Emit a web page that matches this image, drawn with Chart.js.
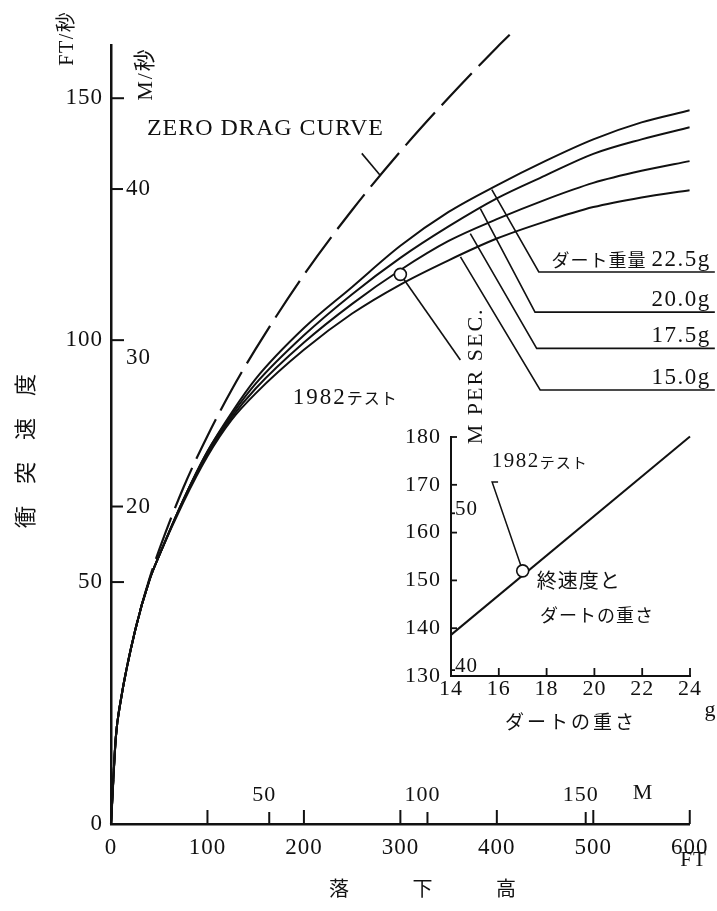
<!DOCTYPE html>
<html>
<head>
<meta charset="utf-8">
<script src="https://cdn.jsdelivr.net/npm/chart.js@4/dist/chart.umd.min.js"></script>
<style>
html, body { margin: 0; padding: 0; background: #fff; }
#wrap { position: relative; width: 717px; height: 911px; }
#wrap canvas { position: absolute; left: 0; top: 0; }
</style>
</head>
<body>
<div id="wrap">
  <canvas id="main" width="717" height="911"></canvas>
  <canvas id="inset" width="717" height="911"></canvas>
</div>
<script>
// 落下高 (FT) と 衝突速度 (FT/秒)
const dropFt  = [0, 5, 10, 25, 40, 50, 75, 100, 125, 150, 200, 250, 300, 350, 400, 450, 500, 550, 600];
const dart225 = [0, 17.9, 25.4, 40, 50.5, 55.5, 67, 77, 85, 92, 102.5, 111, 119.5, 126.5, 132, 137, 141.5, 145, 147.5];
const dart200 = [0, 17.9, 25.4, 40, 50.5, 55.5, 67, 77, 84.5, 91, 101, 109.5, 117, 123.5, 129.3, 134, 138.5, 141.5, 144];
const dart175 = [0, 17.9, 25.4, 40, 50.5, 55.5, 67, 76.5, 84, 90, 99.5, 107.5, 114.5, 120.5, 125, 129, 132.5, 135, 137];
const dart150 = [0, 17.9, 25.4, 40, 50.5, 55.5, 66.5, 76, 83.5, 89, 98, 105.5, 111.5, 116.5, 121, 124.5, 127.5, 129.5, 131];

// ZERO DRAG CURVE
const zeroFt   = [0, 5, 10, 25, 40, 50, 75, 100, 125, 150, 200, 250, 300, 350, 400, 420];
const zeroDrag = [0, 17.9, 25.4, 40, 50.8, 56.7, 69.5, 80.2, 89.7, 98.2, 113.5, 126.9, 139, 150.1, 160.5, 164.4];

// 1982テスト
const testFt = [300];
const testV  = [113.6];

// 目盛
const xTicksFt = [0, 100, 200, 300, 400, 500, 600];
const yTicksFt = [0, 50, 100, 150];
const xTicksM  = [50, 100, 150];
const yTicksMs = [20, 30, 40];

// 挿入図: 終速度とダートの重さ
const weightG   = [14, 24];
const termVel   = [138.6, 180.1];
const testG     = [17];
const testTermV = [152];
const insetXTicks  = [14, 16, 18, 20, 22, 24];
const insetYTicks  = [130, 140, 150, 160, 170, 180];
const insetMsTicks = [40, 50];

const FT_PER_M = 3.2808;
const INK = '#111';
const SERIF = "'Liberation Serif', 'Noto Sans CJK JP', serif";
const JP = "'Noto Sans CJK JP', sans-serif";

Chart.defaults.font.family = SERIF;
Chart.defaults.color = INK;

function pts(xs, ys) {
    return xs.map((x, i) => ({x: x, y: ys[i]}));
}

function seg(ctx, x1, y1, x2, y2) {
    ctx.beginPath();
    ctx.moveTo(x1, y1);
    ctx.lineTo(x2, y2);
    ctx.stroke();
}

function poly(ctx, p) {
    ctx.beginPath();
    ctx.moveTo(p[0][0], p[0][1]);
    for (let i = 1; i < p.length; i++) ctx.lineTo(p[i][0], p[i][1]);
    ctx.stroke();
}

// 文字列を続けて描く  parts = [[text, font, spacing], ...]
function run(ctx, parts, x, y, align, rot) {
    ctx.save();
    ctx.translate(x, y);
    if (rot) ctx.rotate(rot);
    ctx.textBaseline = 'middle';
    ctx.textAlign = 'left';
    let total = 0;
    const w = parts.map(p => {
        ctx.font = p[1];
        ctx.letterSpacing = (p[2] || 0) + 'px';
        const m = ctx.measureText(p[0]).width;
        total += m;
        return m;
    });
    let cx = align === 'right' ? -total : (align === 'center' ? -total / 2 : 0);
    parts.forEach((p, i) => {
        ctx.font = p[1];
        ctx.letterSpacing = (p[2] || 0) + 'px';
        ctx.fillText(p[0], cx, 0);
        cx += w[i];
    });
    ctx.restore();
}

function curve(label, xs, ys) {
    return {
        label: label,
        data: pts(xs, ys),
        borderColor: INK,
        borderWidth: 2,
        pointRadius: 0,
        cubicInterpolationMode: 'monotone',
        fill: false,
        order: 1
    };
}

function ringSet(label, xs, ys) {
    return {
        type: 'scatter',
        label: label,
        data: pts(xs, ys),
        pointRadius: 6,
        pointBackgroundColor: '#fff',
        pointBorderColor: INK,
        pointBorderWidth: 1.6,
        order: 0
    };
}

// メイン図の注記
const mainMarks = {
    id: 'mainMarks',
    beforeDraw(chart) {
        chart.ctx.letterSpacing = '1px';
    },
    afterDraw(chart) {
        const ctx = chart.ctx;
        const {x, y, xm, ym} = chart.scales;
        const X = v => x.getPixelForValue(v);
        const Y = v => y.getPixelForValue(v);
        const left = x.left, base = y.bottom;

        ctx.save();
        ctx.strokeStyle = INK;
        ctx.fillStyle = INK;
        ctx.lineWidth = 2;

        // 内向きの目盛
        xTicksFt.slice(1).forEach(v => seg(ctx, X(v), base, X(v), base - 14));
        yTicksFt.slice(1).forEach(v => seg(ctx, left, Y(v), left + 13, Y(v)));

        // M 目盛
        xTicksM.forEach(v => {
            const px = xm.getPixelForValue(v);
            seg(ctx, px, base, px, base - 12);
            run(ctx, [[String(v), '22px ' + SERIF, 1]], px - 5, base - 29, 'center');
        });
        run(ctx, [['M', '22px ' + SERIF, 0]], X(551), base - 31, 'center');

        // M/秒 目盛
        yTicksMs.forEach(v => {
            const py = ym.getPixelForValue(v);
            const ticked = v % 20 === 0;
            if (ticked) seg(ctx, left, py, left + 12, py);
            run(ctx, [[String(v), '23px ' + SERIF, 1]], left + 15, ticked ? py : py + 10, 'left');
        });

        // 軸タイトル
        run(ctx, [['FT', '21px ' + SERIF, 1]], X(604), base + 36, 'center');
        run(ctx, [['FT/秒', '20px ' + SERIF, 1.5]], X(-45), Y(162.4), 'center', -Math.PI / 2);
        run(ctx, [['M/秒', '22px ' + SERIF, 2]], X(37), Y(155), 'center', -Math.PI / 2);
        run(ctx, [['衝突速度', '22px ' + JP, 22]], X(-89.8), Y(61.2), 'left', -Math.PI / 2);
        run(ctx, [['落下高', '20px ' + JP, 63.5]], X(226), base + 64, 'left');

        // ZERO DRAG CURVE
        run(ctx, [['ZERO DRAG CURVE', '24px ' + SERIF, 1]], X(37.2), Y(143.8), 'left');
        ctx.lineWidth = 1.6;
        seg(ctx, X(260), Y(138.6), X(279), Y(134.1));

        // ダート重量ラベル
        const tags = [
            ['22.5g', 'ダート重量', [394.8, 131.1], [443.5, 114.1]],
            ['20.0g', '', [382.9, 127.2], [439.6, 105.8]],
            ['17.5g', '', [372.5, 122.0], [441.3, 98.3]],
            ['15.0g', '', [362.3, 117.2], [444.9, 89.7]]
        ];
        tags.forEach(t => {
            poly(ctx, [[X(t[2][0]), Y(t[2][1])], [X(t[3][0]), Y(t[3][1])], [X(626), Y(t[3][1])]]);
            const parts = [];
            if (t[1]) parts.push([t[1] + ' ', '18px ' + JP, 1]);
            parts.push([t[0], '23px ' + SERIF, 1.5]);
            run(ctx, parts, X(621.7), Y(t[3][1]) - 12, 'right');
        });

        // 1982テスト
        const cx = X(testFt[0]), cy = Y(testV[0]);
        const ex = X(362.2), ey = Y(95.9);
        const d = Math.hypot(ex - cx, ey - cy);
        seg(ctx, cx + (ex - cx) / d * 6, cy + (ey - cy) / d * 6, ex, ey);
        run(ctx, [['1982', '23px ' + SERIF, 2], ['テスト', '16px ' + JP, 1]], X(188.3), Y(88), 'left');

        ctx.restore();
    }
};

new Chart(document.getElementById('main'), {
    type: 'line',
    data: {
        datasets: [
            ringSet('1982テスト', testFt, testV),
            Object.assign(curve('ZERO DRAG CURVE', zeroFt, zeroDrag), {borderDash: [44, 10], borderWidth: 2.2, clip: false}),
            curve('22.5g', dropFt, dart225),
            curve('20.0g', dropFt, dart200),
            curve('17.5g', dropFt, dart175),
            curve('15.0g', dropFt, dart150)
        ]
    },
    options: {
        responsive: false,
        animation: false,
        layout: {padding: {top: 45, right: 24, left: 0, bottom: 0}},
        plugins: {legend: {display: false}, tooltip: {enabled: false}},
        scales: {
            x: {
                type: 'linear', min: 0, max: 600, position: 'bottom',
                afterBuildTicks: s => { s.ticks = xTicksFt.map(v => ({value: v})); },
                afterFit: s => { s.height = 87; },
                grid: {display: false, drawTicks: false},
                border: {display: true, color: INK, width: 2.5},
                ticks: {font: {size: 23}, color: INK, padding: 10, maxRotation: 0, autoSkip: false}
            },
            y: {
                type: 'linear', min: 0, max: 161, position: 'left',
                afterBuildTicks: s => { s.ticks = yTicksFt.map(v => ({value: v})); },
                afterFit: s => { s.width = 111; },
                grid: {display: false, drawTicks: false},
                border: {display: true, color: INK, width: 2.5},
                ticks: {font: {size: 23}, color: INK, padding: 8, autoSkip: false}
            },
            xm: {type: 'linear', display: false, min: 0, max: 600 / FT_PER_M, position: 'bottom'},
            ym: {type: 'linear', display: false, min: 0, max: 161 / FT_PER_M, position: 'left'}
        }
    },
    plugins: [mainMarks]
});

// 挿入図の注記
const insetMarks = {
    id: 'insetMarks',
    beforeDraw(chart) {
        chart.ctx.letterSpacing = '1px';
    },
    afterDraw(chart) {
        const ctx = chart.ctx;
        const {x, y, ym} = chart.scales;
        const X = v => x.getPixelForValue(v);
        const Y = v => y.getPixelForValue(v);
        const left = x.left, base = y.bottom;

        ctx.save();
        ctx.strokeStyle = INK;
        ctx.fillStyle = INK;
        ctx.lineWidth = 1.8;

        insetXTicks.slice(1).forEach(v => seg(ctx, X(v), base, X(v), base - 8));
        insetYTicks.slice(1).forEach(v => seg(ctx, left, Y(v), left + 6, Y(v)));

        insetMsTicks.forEach(v => {
            const py = ym.getPixelForValue(v);
            seg(ctx, left, py, left + 4, py);
            run(ctx, [[String(v), '21px ' + SERIF, 1]], left + 4, py - 4, 'left');
        });

        run(ctx, [['M PER SEC.', '22px ' + SERIF, 2]], X(15.05), Y(192.8), 'center', -Math.PI / 2);

        // 1982テスト
        ctx.lineWidth = 1.5;
        const cx = X(testG[0]), cy = Y(testTermV[0]);
        const ex = X(15.72), ey = Y(170.6);
        const d = Math.hypot(ex - cx, ey - cy);
        poly(ctx, [[cx + (ex - cx) / d * 6, cy + (ey - cy) / d * 6], [ex, ey], [X(15.97), ey]]);
        run(ctx, [['1982', '21px ' + SERIF, 1.5], ['テスト', '15px ' + JP, 1]], X(15.7), Y(174.8), 'left');

        run(ctx, [['終速度と', '20px ' + JP, 1]], X(17.59), Y(149.9), 'left');
        run(ctx, [['ダートの重さ', '18px ' + JP, 1]], X(17.72), Y(142.8), 'left');

        // 軸タイトル
        run(ctx, [['ダートの重さ', '19px ' + JP, 3]], X(19.02), Y(120.4), 'center');
        run(ctx, [['g', '22px ' + SERIF, 0]], X(24.84), Y(122.9), 'center');

        ctx.restore();
    }
};

new Chart(document.getElementById('inset'), {
    type: 'line',
    data: {
        datasets: [
            ringSet('1982テスト', testG, testTermV),
            Object.assign(curve('終速度', weightG, termVel), {cubicInterpolationMode: 'default', tension: 0, clip: false})
        ]
    },
    options: {
        responsive: false,
        animation: false,
        layout: {padding: {top: 437, right: 27, left: 391, bottom: 195}},
        plugins: {legend: {display: false}, tooltip: {enabled: false}},
        scales: {
            x: {
                type: 'linear', min: 14, max: 24, position: 'bottom',
                afterBuildTicks: s => { s.ticks = insetXTicks.map(v => ({value: v})); },
                afterFit: s => { s.height = 40; },
                grid: {display: false, drawTicks: false},
                border: {display: true, color: INK, width: 2},
                ticks: {font: {size: 22}, color: INK, padding: 0, maxRotation: 0, autoSkip: false}
            },
            y: {
                type: 'linear', min: 130, max: 180, position: 'left',
                afterBuildTicks: s => { s.ticks = insetYTicks.map(v => ({value: v})); },
                afterFit: s => { s.width = 60; },
                grid: {display: false, drawTicks: false},
                border: {display: true, color: INK, width: 2},
                ticks: {font: {size: 22}, color: INK, padding: 10, autoSkip: false}
            },
            ym: {type: 'linear', display: false, min: 130 / FT_PER_M, max: 180 / FT_PER_M, position: 'left'}
        }
    },
    plugins: [insetMarks]
});
</script>
</body>
</html>
